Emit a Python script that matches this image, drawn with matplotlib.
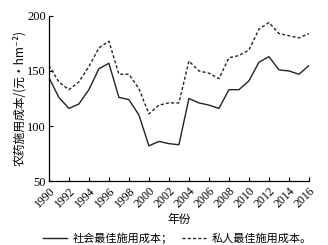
import matplotlib
matplotlib.use("Agg")
import matplotlib.pyplot as plt

years = list(range(1990, 2017))
social = [144, 126, 116, 120, 133, 152, 157, 126, 124, 110,
          82, 86, 84, 83, 125, 121, 119, 116, 133, 133,
          141, 158, 163, 151, 150, 147, 155]
private = [155, 140, 133, 140, 154, 171, 177, 147, 147, 134,
           111, 119, 121, 121, 159, 150, 148, 143, 162, 164,
           169, 188, 194, 184, 182, 180, 184]
xticks = list(range(1990, 2017, 2))
yticks = [50, 100, 150, 200]

cjk = ['Noto Sans CJK SC', 'DejaVu Sans']
num_font = 'Liberation Serif'

fig = plt.figure(figsize=(3.28, 2.45), dpi=100)
ax = fig.add_axes([0.149, 0.261, 0.793, 0.674])

l1, = ax.plot(years, social, color='#222222', lw=1.0, ls='-')
l2, = ax.plot(years, private, color='#222222', lw=1.0, ls=(0, (2.2, 1.6)))

ax.set_xlim(1990, 2016)
ax.set_ylim(50, 200)
ax.set_xticks(xticks)
ax.set_yticks(yticks)
ax.set_xticklabels([str(x) for x in xticks], rotation=45, ha='right',
                   rotation_mode='anchor', fontsize=8.5, family=num_font)
ax.set_yticklabels([str(y) for y in yticks], fontsize=9, family=num_font)
ax.tick_params(direction='in', length=3, width=0.8, pad=2)
ax.tick_params(axis='x', pad=3)
for s in ['top', 'right']:
    ax.spines[s].set_visible(False)
for s in ['left', 'bottom']:
    ax.spines[s].set_linewidth(0.9)

ax.set_ylabel('农药施用成本/(元·hm⁻²)', family=cjk, fontsize=8.5, labelpad=1)
ax.set_xlabel('年份', family=cjk, fontsize=8.5, labelpad=2)

fig.legend([l1, l2], ['社会最佳施用成本；', '私人最佳施用成本。'],
           loc='lower center', bbox_to_anchor=(0.54, -0.035), ncol=2,
           frameon=False, prop={'family': cjk, 'size': 8},
           handlelength=2.2, columnspacing=0.8, handletextpad=0.5)

fig.savefig('out.png', dpi=100)
